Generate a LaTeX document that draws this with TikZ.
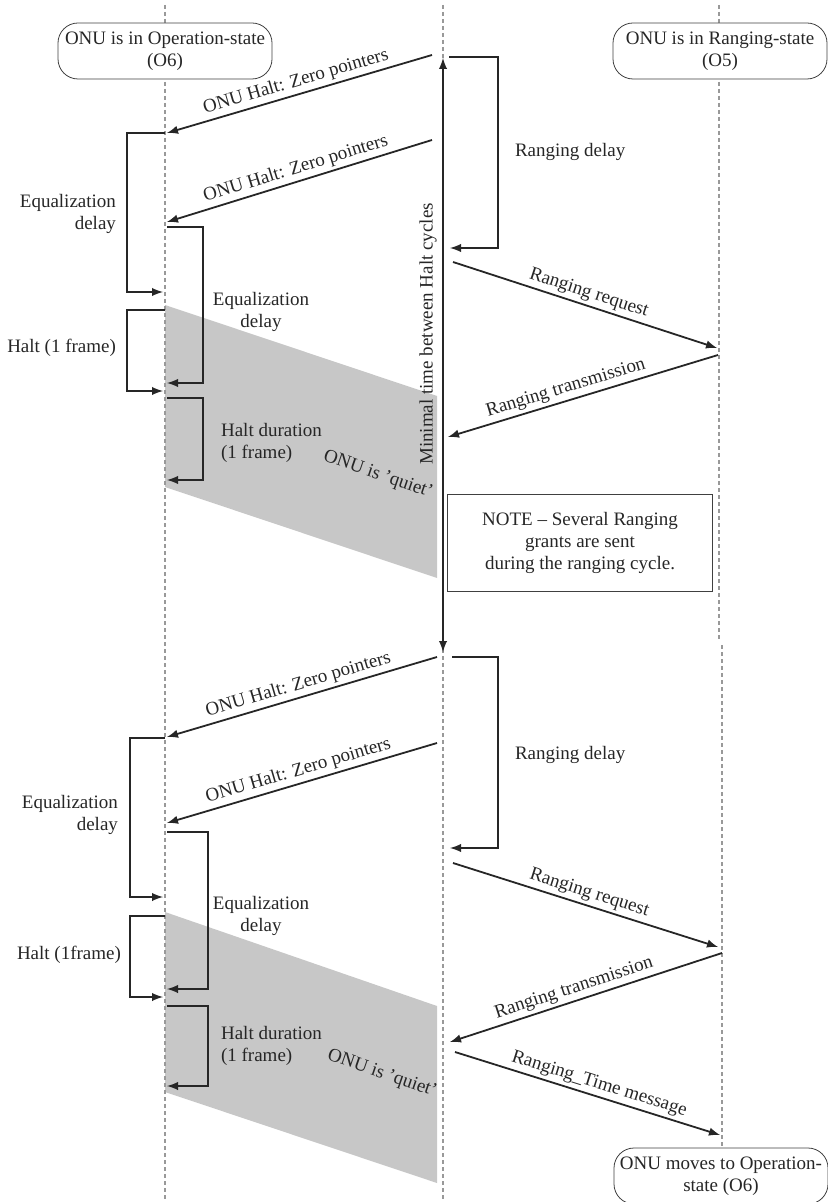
\documentclass[tikz,border=0pt]{standalone}
\usepackage{fontspec}
\setmainfont{Liberation Serif}

\begin{document}
\begin{tikzpicture}[x=0.5pt,y=-0.5pt,>=latex,
    every node/.style={font=\fontsize{9.5}{11}\selectfont, text=black!85},
    state/.style={draw=black!75, fill=white, rounded corners=10pt,
      minimum width=107pt, minimum height=28pt, align=center, inner sep=1pt},
    life/.style={draw=black!40, dash pattern=on 2pt off 1.5pt, line width=0.6pt},
    msg/.style={->, draw=black!85, line width=0.9pt},
    quiet/.style={fill=black!22},
    lbl/.style={sloped, above, inner sep=1.5pt}]
  \useasboundingbox (0,0) rectangle (827,1202);

  % ONU is quiet
  \fill[quiet] (165,305) -- (437,396) -- (437,578) -- (165,487) -- cycle;
  \fill[quiet] (165,912) -- (437,1006) -- (437,1183) -- (165,1092) -- cycle;

  % lifelines
  \path (165,5) coordinate (lt) (165,1202) coordinate (lb)
        (443,5) coordinate (mt) (443,1202) coordinate (mb)
        (719,5) coordinate (rt) (719,640) coordinate (rm)
        (722,645) coordinate (rn) (722,1150) coordinate (rb);
  \draw[life] (lt) -- (lb);
  \draw[life] (mt) -- (mb);
  \draw[life] (rt) -- (rm);
  \draw[life] (rn) -- (rb);

  \node[state] (onuop) at (165,51) {ONU is in Operation-state\\(O6)};
  \node[state] (onurg) at (720,51) {ONU is in Ranging-state\\(O5)};
  \node[state] (onumv) at (721,1176) {ONU moves to Operation-\\state (O6)};

  % minimal time between halt cycles
  \path (443,58) coordinate (minA) (443,652) coordinate (minB);
  \draw[<->, draw=black!85, line width=0.9pt] (minA) -- (minB);
  \node[rotate=90] (minlbl) at (428,334) {Minimal time between Halt cycles};

  % first ranging cycle
  \path (432,55) coordinate (zpA1) (167,133) coordinate (zpA2)
        (432,140) coordinate (zpB1) (167,222) coordinate (zpB2)
        (453,262) coordinate (rqA1) (717,348) coordinate (rqA2)
        (718,355) coordinate (rtA1) (448,437) coordinate (rtA2);
  \draw[msg] (zpA1) -- (zpA2) node[lbl, midway] (zpAl) {ONU Halt: Zero pointers};
  \draw[msg] (zpB1) -- (zpB2) node[lbl, midway] (zpBl) {ONU Halt: Zero pointers};
  \draw[msg] (rqA1) -- (rqA2) node[lbl, midway] (rqAl) {Ranging request};
  \draw[msg] (rtA1) -- (rtA2) node[lbl, pos=0.55] (rtAl) {Ranging transmission};

  \path (449,57) coordinate (rdA1) (450,248) coordinate (rdA2)
        (165,133) coordinate (eqA1) (163,292) coordinate (eqA2)
        (167,227) coordinate (eqB1) (167,383) coordinate (eqB2)
        (165,310) coordinate (hlA1) (163,391) coordinate (hlA2)
        (167,398) coordinate (hdA1) (167,480) coordinate (hdA2);
  \draw[msg] (rdA1) -- ++(49,0) |- (rdA2);
  \draw[msg] (eqA1) -- ++(-38,0) |- (eqA2);
  \draw[msg] (eqB1) -- ++(36,0) |- (eqB2);
  \draw[msg] (hlA1) -- ++(-38,0) |- (hlA2);
  \draw[msg] (hdA1) -- ++(36,0) |- (hdA2);

  \node[anchor=west] (rdAl) at (508,152) {Ranging delay};
  \node[anchor=east, align=right] (eqAl) at (123,214) {Equalization\\delay};
  \node[align=center] (eqBl) at (261,312) {Equalization\\delay};
  \node[anchor=east] (hlAl) at (123,348) {Halt (1 frame)};
  \node[anchor=west, align=left] (hdAl) at (214,443) {Halt duration\\(1 frame)};
  \node[rotate=-19] (qtA) at (378,475) {ONU is 'quiet'};

  \node[draw=black!75, minimum width=132.5pt, minimum height=48.5pt,
        align=center] (note) at (580,543)
        {NOTE – Several Ranging\\grants are sent\\during the ranging cycle.};

  % second ranging cycle
  \path (437,657) coordinate (zpC1) (167,737) coordinate (zpC2)
        (437,743) coordinate (zpD1) (167,823) coordinate (zpD2)
        (453,863) coordinate (rqB1) (718,947) coordinate (rqB2)
        (722,953) coordinate (rtB1) (450,1042) coordinate (rtB2)
        (455,1052) coordinate (tmB1) (720,1135) coordinate (tmB2);
  \draw[msg] (zpC1) -- (zpC2) node[lbl, midway] (zpCl) {ONU Halt: Zero pointers};
  \draw[msg] (zpD1) -- (zpD2) node[lbl, midway] (zpDl) {ONU Halt: Zero pointers};
  \draw[msg] (rqB1) -- (rqB2) node[lbl, midway] (rqBl) {Ranging request};
  \draw[msg] (rtB1) -- (rtB2) node[lbl, pos=0.53] (rtBl) {Ranging transmission};
  \draw[msg] (tmB1) -- (tmB2) node[lbl, pos=0.53] (tmBl) {Ranging\_Time message};

  \path (452,657) coordinate (rdB1) (450,848) coordinate (rdB2)
        (165,738) coordinate (eqC1) (163,897) coordinate (eqC2)
        (167,832) coordinate (eqD1) (167,989) coordinate (eqD2)
        (165,916) coordinate (hlB1) (163,997) coordinate (hlB2)
        (167,1006) coordinate (hdB1) (167,1086) coordinate (hdB2);
  \draw[msg] (rdB1) -- ++(46,0) |- (rdB2);
  \draw[msg] (eqC1) -- ++(-35,0) |- (eqC2);
  \draw[msg] (eqD1) -- ++(41,0) |- (eqD2);
  \draw[msg] (hlB1) -- ++(-35,0) |- (hlB2);
  \draw[msg] (hdB1) -- ++(41,0) |- (hdB2);

  \node[anchor=west] (rdBl) at (508,755) {Ranging delay};
  \node[anchor=east, align=right] (eqCl) at (125,815) {Equalization\\delay};
  \node[align=center] (eqDl) at (261,916) {Equalization\\delay};
  \node[anchor=east] (hlBl) at (128,955) {Halt (1frame)};
  \node[anchor=west, align=left] (hdBl) at (214,1046) {Halt duration\\(1 frame)};
  \node[rotate=-19] (qtB) at (382,1074) {ONU is 'quiet'};
\end{tikzpicture}
\end{document}
